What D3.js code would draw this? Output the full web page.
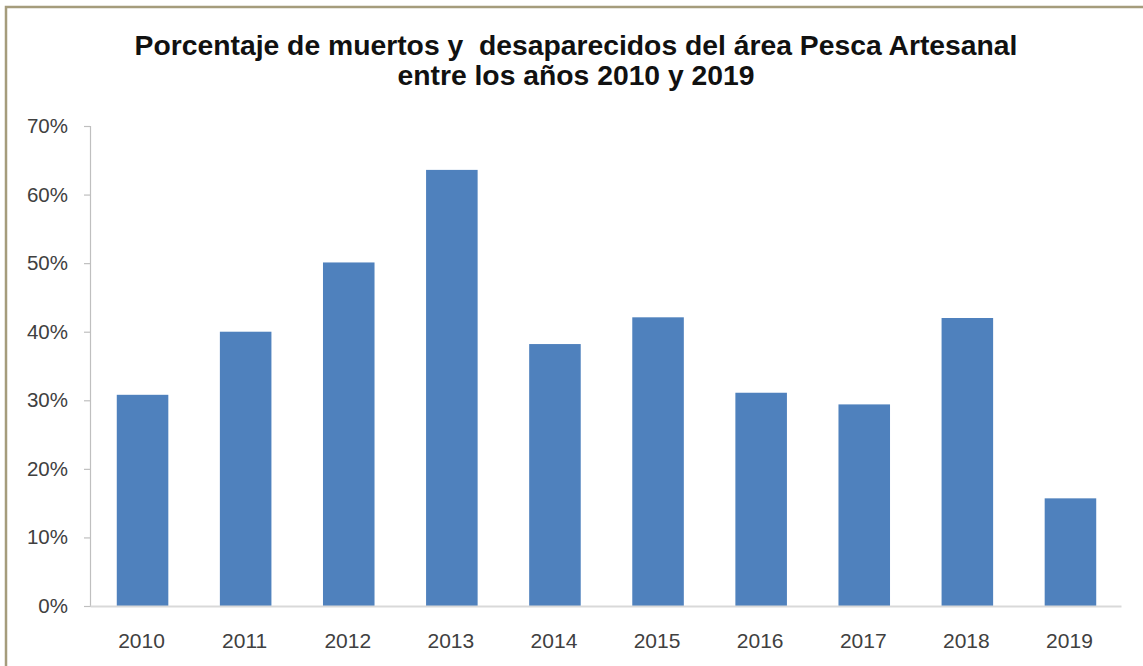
<!DOCTYPE html>
<html>
<head>
<meta charset="utf-8">
<script src="https://cdn.jsdelivr.net/npm/d3@7"></script>
<style>
  html, body { margin: 0; padding: 0; background: #fff; }
  svg { display: block; }
</style>
</head>
<body>
<svg id="chart" width="1143" height="666"></svg>
<script>
const categories = ["2010", "2011", "2012", "2013", "2014", "2015", "2016", "2017", "2018", "2019"];
const values = [0.308, 0.400, 0.501, 0.636, 0.382, 0.421, 0.311, 0.294, 0.420, 0.157];
const yTicks = [0, 0.1, 0.2, 0.3, 0.4, 0.5, 0.6, 0.7];
const titleLines = ["Porcentaje de muertos y  desaparecidos del área Pesca Artesanal", "entre los años 2010 y 2019"];

const svg = d3.select("#chart");
const W = 1143, H = 666;
svg.append("rect").attr("width", W).attr("height", H).attr("fill", "#fff");

// frame border
svg.append("rect")
  .attr("x", 6).attr("y", 7).attr("width", W + 20).attr("height", H + 20)
  .attr("fill", "none").attr("stroke", "#a59c7c").attr("stroke-width", 2.5);

const margin = { left: 90, right: 22, top: 126, bottom: 60 };
const x = d3.scaleBand().domain(categories).range([margin.left, W - margin.right]).paddingInner(0.5).paddingOuter(0.25);
const y = d3.scaleLinear().domain([0, 0.7]).range([606, 126]);

// bars
svg.append("g").selectAll("rect").data(values).join("rect")
  .attr("x", (d, i) => x(categories[i]) + 1)
  .attr("width", x.bandwidth())
  .attr("y", d => y(d))
  .attr("height", d => y(0) - y(d))
  .attr("fill", "#4f81bd");

// y axis
const yAxis = svg.append("g").attr("transform", `translate(${margin.left},0)`)
  .call(d3.axisLeft(y).tickValues(yTicks).tickFormat(d3.format(".0%")).tickSize(6).tickSizeOuter(6).tickPadding(16));
yAxis.select(".domain").attr("stroke", "#bfbfbf").attr("stroke-width", 1.2);
yAxis.selectAll(".tick line").attr("stroke", "#bfbfbf").attr("stroke-width", 1.2);
yAxis.selectAll("text").attr("font-family", "Liberation Sans, Arial, sans-serif").attr("font-size", 20.5).attr("fill", "#404040");

// x axis
const xAxis = svg.append("g").attr("transform", `translate(0,${y(0)})`)
  .call(d3.axisBottom(x).tickSize(0).tickPadding(27));
xAxis.select(".domain").attr("stroke", "#d9d9d9").attr("stroke-width", 2);
xAxis.selectAll("text").attr("font-family", "Liberation Sans, Arial, sans-serif").attr("font-size", 21).attr("fill", "#404040");

// title
const title = svg.append("g");
const t1 = title.append("text").attr("x", 576).attr("y", 55).attr("text-anchor", "middle")
  .attr("font-family", "Liberation Sans, Arial, sans-serif").attr("font-weight", "bold")
  .attr("font-size", 26).attr("fill", "#111").attr("xml:space", "preserve").style("white-space", "pre").text(titleLines[0]);
const w1 = t1.node().getComputedTextLength();
const fs = 26 * 883 / w1;
t1.attr("font-size", fs);
title.append("text").attr("x", 576).attr("y", 85).attr("text-anchor", "middle")
  .attr("font-family", "Liberation Sans, Arial, sans-serif").attr("font-weight", "bold")
  .attr("font-size", fs).attr("fill", "#111").text(titleLines[1]);
</script>
</body>
</html>
